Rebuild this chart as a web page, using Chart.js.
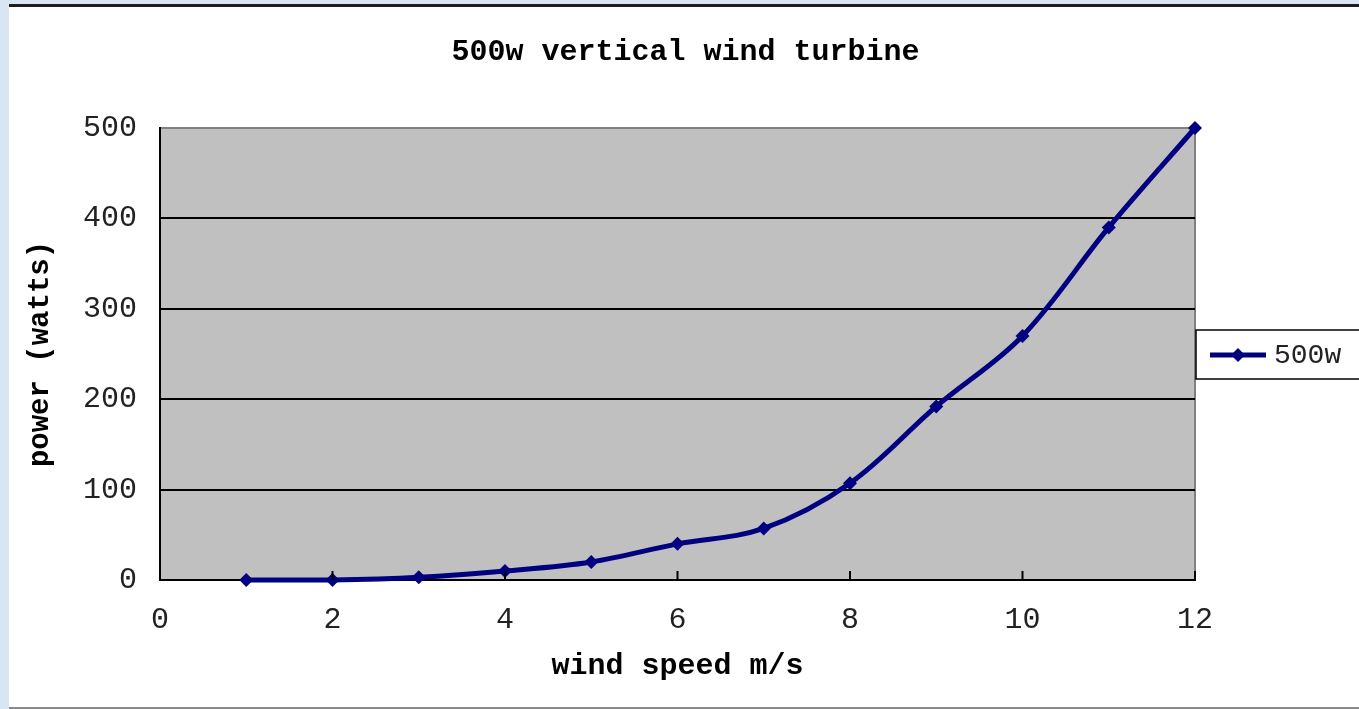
<!DOCTYPE html>
<html>
<head>
<meta charset="utf-8">
<script src="https://cdn.jsdelivr.net/npm/chart.js@4/dist/chart.umd.min.js"></script>
<style>
  html, body { margin: 0; padding: 0; background: #fff; }
  #wrap { width: 1359px; height: 709px; position: relative; }
</style>
</head>
<body>
<div id="wrap"><canvas id="c" width="1359" height="709"></canvas></div>
<script>
// ---- data ----
const windSpeeds = [1, 2, 3, 4, 5, 6, 7, 8, 9, 10, 11, 12];
const power500w = [0, 0, 3, 10, 20, 40, 57, 107, 192, 270, 390, 500];
const seriesName = '500w';
const chartTitle = '500w vertical wind turbine';
const xTitle = 'wind speed m/s';
const yTitle = 'power (watts)';
const xTickValues = [0, 2, 4, 6, 8, 10, 12];
const yTickValues = [0, 100, 200, 300, 400, 500];

const FONT = "'Liberation Mono', 'DejaVu Sans Mono', monospace";
const NAVY = '#000080';

const framePlugin = {
  id: 'frame',
  beforeDraw(chart) {
    const {ctx, width, height, chartArea: a} = chart;
    ctx.save();
    ctx.fillStyle = '#ffffff';
    ctx.fillRect(0, 0, width, height);
    ctx.fillStyle = '#dae5f3';
    ctx.fillRect(0, 0, 9, height);
    ctx.fillRect(0, 0, width, 4);
    ctx.fillStyle = '#1e1e1e';
    ctx.fillRect(9, 4, width - 9, 3);
    ctx.fillStyle = '#8a8a8a';
    ctx.fillRect(9, height - 2, width - 9, 2);
    ctx.fillStyle = '#c0c0c0';
    ctx.fillRect(a.left, a.top, a.right - a.left, a.bottom - a.top);
    ctx.strokeStyle = '#808080';
    ctx.lineWidth = 2;
    ctx.beginPath();
    ctx.moveTo(a.left, a.top);
    ctx.lineTo(a.right, a.top);
    ctx.lineTo(a.right, a.bottom);
    ctx.stroke();
    ctx.restore();
  },
  afterDatasetsDraw(chart) {
    const {ctx, chartArea: a} = chart;
    const xs = chart.scales.x;
    ctx.save();
    ctx.strokeStyle = '#000';
    ctx.lineWidth = 2;
    xs.ticks.forEach(t => {
      const px = xs.getPixelForValue(t.value);
      ctx.beginPath();
      ctx.moveTo(px, a.bottom);
      ctx.lineTo(px, a.bottom - 9);
      ctx.stroke();
    });
    // legend box
    const lx = a.right + 1, ly = 330, lw = 200, lh = 49;
    ctx.fillStyle = '#fff';
    ctx.fillRect(lx, ly, lw, lh);
    ctx.strokeStyle = '#000';
    ctx.lineWidth = 1.5;
    ctx.strokeRect(lx, ly, lw, lh);
    const cy = ly + lh / 2 + 0.5;
    ctx.strokeStyle = NAVY;
    ctx.lineWidth = 5;
    ctx.beginPath();
    ctx.moveTo(lx + 14, cy);
    ctx.lineTo(lx + 70, cy);
    ctx.stroke();
    ctx.fillStyle = NAVY;
    ctx.beginPath();
    const dx = lx + 42;
    ctx.moveTo(dx, cy - 7);
    ctx.lineTo(dx + 7, cy);
    ctx.lineTo(dx, cy + 7);
    ctx.lineTo(dx - 7, cy);
    ctx.closePath();
    ctx.fill();
    ctx.fillStyle = '#222';
    ctx.font = "28px " + FONT;
    ctx.textBaseline = 'middle';
    ctx.textAlign = 'left';
    ctx.fillText(chart.data.datasets[0].label, lx + 78, cy + 1);
    ctx.restore();
  }
};

new Chart(document.getElementById('c'), {
  type: 'line',
  data: {
    datasets: [{
      label: seriesName,
      data: windSpeeds.map((x, i) => ({x: x, y: power500w[i]})),
      borderColor: NAVY,
      backgroundColor: NAVY,
      borderWidth: 5,
      tension: 0.35,
      pointStyle: 'rectRot',
      pointRadius: 7,
      pointHoverRadius: 7,
      pointBorderWidth: 0,
      clip: false,
      yAxisID: 'y'
    }]
  },
  options: {
    responsive: false,
    animation: false,
    events: [],
    layout: { padding: { left: 12, right: 0, top: 0, bottom: 0 } },
    plugins: {
      legend: { display: false },
      tooltip: { enabled: false },
      title: {
        display: true,
        text: chartTitle,
        color: '#000',
        font: { family: FONT, size: 30, weight: 'bold', lineHeight: 1.2 },
        padding: { top: 34, bottom: 58 }
      }
    },
    scales: {
      x: {
        type: 'linear',
        min: 0,
        max: 12,
        afterBuildTicks: s => { s.ticks = xTickValues.map(v => ({value: v})); },
        afterFit: s => { s.height = 129; },
        grid: { display: false, drawTicks: false },
        border: { display: true, color: '#000', width: 2 },
        ticks: {
          padding: 22,
          color: '#222',
          font: { family: FONT, size: 30, lineHeight: 1.2 },
          maxRotation: 0
        },
        title: {
          display: true,
          text: xTitle,
          color: '#000',
          font: { family: FONT, size: 30, weight: 'bold', lineHeight: 1.2 },
          padding: { top: 0, bottom: 25 }
        }
      },
      y: {
        min: 0,
        max: 500,
        afterBuildTicks: s => { s.ticks = yTickValues.map(v => ({value: v})); },
        afterFit: s => { s.width = 148; },
        grid: {
          drawTicks: false,
          color: ctx => (ctx.tick && ctx.tick.value === 500) ? '#808080' : '#000',
          lineWidth: 2
        },
        border: { display: true, color: '#000', width: 2 },
        ticks: {
          padding: 23,
          color: '#222',
          font: { family: FONT, size: 30, lineHeight: 1.2 }
        },
        title: {
          display: true,
          text: yTitle,
          color: '#000',
          font: { family: FONT, size: 29, weight: 'bold', lineHeight: 1.2 },
          padding: { top: 11, bottom: 0 }
        }
      },
      legendSpace: {
        type: 'linear',
        axis: 'y',
        position: 'right',
        min: 0,
        max: 500,
        afterFit: s => { s.width = 164; },
        grid: { display: false, drawTicks: false },
        border: { display: false },
        ticks: { display: false }
      }
    }
  },
  plugins: [framePlugin]
});
</script>
</body>
</html>
